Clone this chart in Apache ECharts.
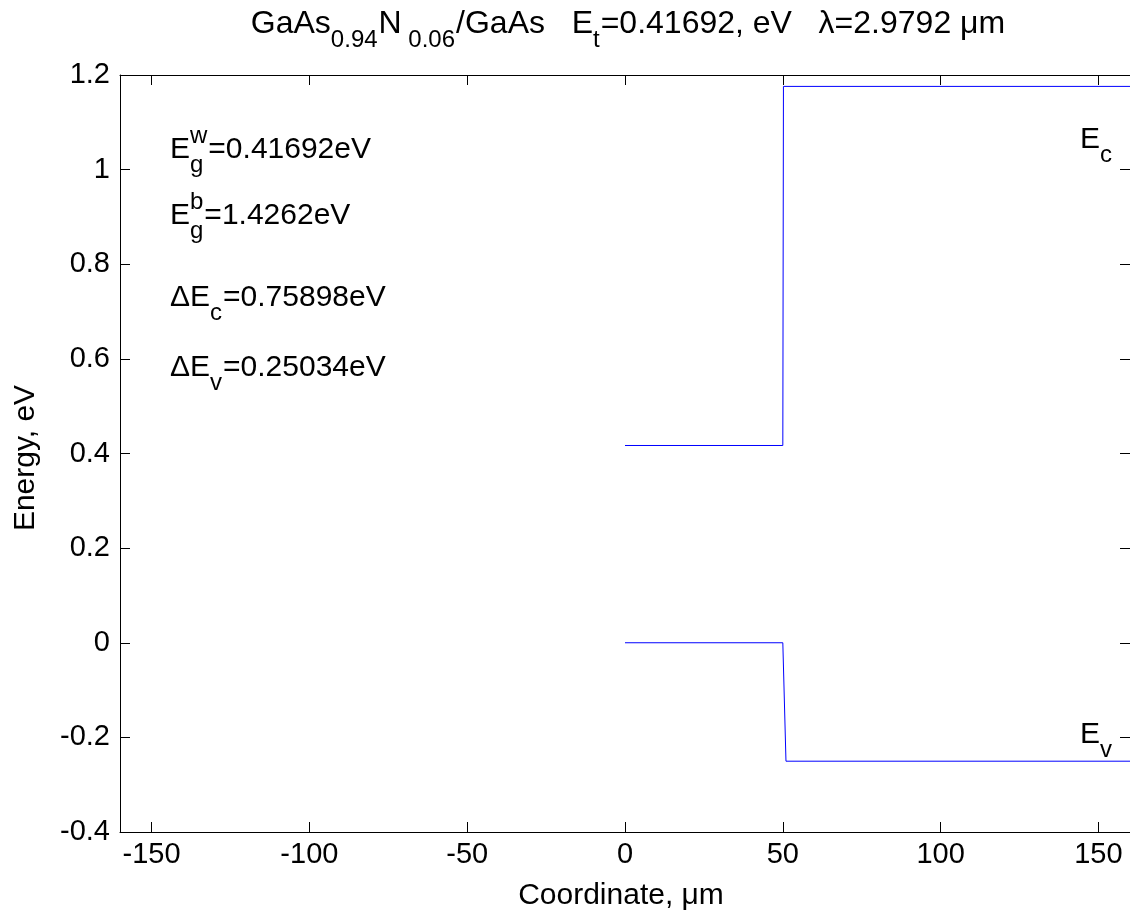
<!DOCTYPE html>
<html><head><meta charset="utf-8">
<script src="https://cdn.jsdelivr.net/npm/echarts@6/dist/echarts.min.js"></script>
<style>html,body{margin:0;padding:0;background:#fff}#c{width:1130px;height:916px}</style>
</head><body><div id="c"></div>
<script>
// ---- data ----
const xTicks = [-150, -100, -50, 0, 50, 100, 150];
const yTicks = [-0.4, -0.2, 0, 0.2, 0.4, 0.6, 0.8, 1, 1.2];
const ecX = [0, 50, 50.2, 160];
const ecY = [0.41692, 0.41692, 1.1759, 1.1759];
const evX = [0, 50, 51, 160];
const evY = [0, 0, -0.25034, -0.25034];

const FONT = '"Liberation Sans", Arial, Helvetica, sans-serif';
const ctx = document.createElement('canvas').getContext('2d');
function tw(t, size) { ctx.font = size + 'px ' + FONT; return ctx.measureText(t).width; }
function mathText(segs, x, y, align, size, subSize) {
  const widths = segs.map(s => s.t != null ? tw(s.t, size) :
    Math.max(s.sub ? tw(s.sub, subSize) : 0, s.sup ? tw(s.sup, subSize) : 0) + 1);
  const total = widths.reduce((a, b) => a + b, 0);
  let cx = align === 'center' ? x - total / 2 : (align === 'right' ? x - total : x);
  const els = [];
  segs.forEach((s, i) => {
    const base = { fontFamily: FONT, fill: '#000', align: 'left', verticalAlign: 'middle' };
    if (s.t != null) {
      els.push({ type: 'text', x: cx, y: y, style: Object.assign({ text: s.t, fontSize: size }, base) });
    } else {
      if (s.sub) els.push({ type: 'text', x: cx, y: y + size * 0.5, style: Object.assign({ text: s.sub, fontSize: subSize }, base) });
      if (s.sup) els.push({ type: 'text', x: cx, y: y - size * 0.45, style: Object.assign({ text: s.sup, fontSize: subSize }, base) });
    }
    cx += widths[i];
  });
  return els;
}

const graphics = [].concat(
  mathText([{ t: 'GaAs' }, { sub: '0.94' }, { t: 'N' }, { sub: ' 0.06' }, { t: '/GaAs   E' }, { sub: 't' },
            { t: '=0.41692, eV   \u03bb=2.9792 \u03bcm' }], 628, 24, 'center', 32, 24),
  mathText([{ t: 'E' }, { sup: 'w', sub: 'g' }, { t: '=0.41692eV' }], 170, 150, 'left', 30, 24),
  mathText([{ t: 'E' }, { sup: 'b', sub: 'g' }, { t: '=1.4262eV' }], 170, 216, 'left', 30, 24),
  mathText([{ t: '\u0394E' }, { sub: 'c' }, { t: '=0.75898eV' }], 170, 298, 'left', 30, 24),
  mathText([{ t: '\u0394E' }, { sub: 'v' }, { t: '=0.25034eV' }], 170, 368, 'left', 30, 24),
  mathText([{ t: 'E' }, { sub: 'c' }], 1080, 140, 'left', 30, 24),
  mathText([{ t: 'E' }, { sub: 'v' }], 1080, 735, 'left', 30, 24),
  [{ type: 'text', x: 621, y: 896, style: { text: 'Coordinate, \u03bcm', fontSize: 30, fontFamily: FONT, fill: '#000', align: 'center', verticalAlign: 'middle' } },
   { type: 'text', x: 26, y: 458, rotation: Math.PI / 2, style: { text: 'Energy, eV', fontSize: 30, fontFamily: FONT, fill: '#000', align: 'center', verticalAlign: 'middle' } }]
);

const LBL = 29;
const axisCommon = {
  type: 'value',
  axisLine: { show: true, onZero: false, lineStyle: { color: '#000', width: 1 } },
  splitLine: { show: false },
  axisTick: { show: true, inside: true, length: 10, lineStyle: { color: '#000' } },
};
const option = {
  backgroundColor: '#fff',
  animation: false,
  grid: { left: 120, right: 0, top: 75, bottom: 84, containLabel: false },
  xAxis: [
    Object.assign({}, axisCommon, { position: 'bottom', min: -160, max: 160,
      axisTick: Object.assign({}, axisCommon.axisTick, { customValues: xTicks }),
      axisLabel: { customValues: xTicks, fontSize: LBL, fontFamily: FONT, color: '#000', margin: 8 } }),
    Object.assign({}, axisCommon, { position: 'top', min: -160, max: 160,
      axisTick: Object.assign({}, axisCommon.axisTick, { customValues: xTicks }),
      axisLabel: { show: false } })
  ],
  yAxis: [
    Object.assign({}, axisCommon, { position: 'left', min: -0.4, max: 1.2, interval: 0.2,
      axisLabel: { fontSize: LBL, fontFamily: FONT, color: '#000', margin: 10 } }),
    Object.assign({}, axisCommon, { position: 'right', min: -0.4, max: 1.2, interval: 0.2,
      axisLabel: { show: false } })
  ],
  series: [
    { type: 'line', xAxisIndex: 0, yAxisIndex: 0, showSymbol: false, symbol: 'none',
      lineStyle: { color: '#0000ff', width: 1 }, data: ecX.map((x, i) => [x, ecY[i]]) },
    { type: 'line', xAxisIndex: 0, yAxisIndex: 0, showSymbol: false, symbol: 'none',
      lineStyle: { color: '#0000ff', width: 1 }, data: evX.map((x, i) => [x, evY[i]]) }
  ],
  graphic: graphics
};
const chart = echarts.init(document.getElementById('c'), null, { renderer: 'canvas' });
chart.setOption(option);
</script></body></html>
